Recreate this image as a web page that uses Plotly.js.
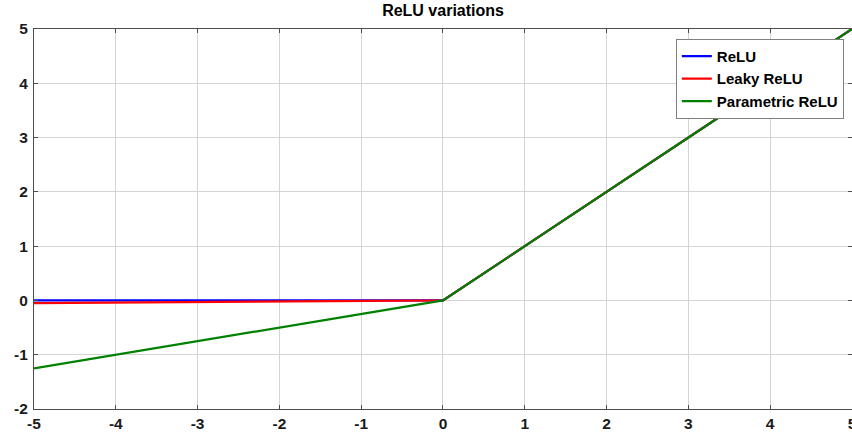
<!DOCTYPE html>
<html>
<head>
<meta charset="utf-8">
<script src="https://cdn.plot.ly/plotly-3.0.1.min.js"></script>
<style>html,body{margin:0;padding:0;background:#fff;}#chart{width:852px;height:435px;}</style>
</head>
<body>
<div id="chart"></div>
<script>
const xValues = [-5, -4, -3, -2, -1, 0, 1, 2, 3, 4, 5];
const reluValues = [0, 0, 0, 0, 0, 0, 1, 2, 3, 4, 5];
const leakyValues = [-0.05, -0.04, -0.03, -0.02, -0.01, 0, 1, 2, 3, 4, 5];
const preluValues = [-1.25, -1, -0.75, -0.5, -0.25, 0, 1, 2, 3, 4, 5];
const seriesNames = ['ReLU', 'Leaky ReLU', 'Parametric ReLU'];
const xTicks = [-5, -4, -3, -2, -1, 0, 1, 2, 3, 4, 5];
const yTicks = [-2, -1, 0, 1, 2, 3, 4, 5];

const font = 'Liberation Sans, Arial, Helvetica, sans-serif';
const traces = [
  {x: xValues, y: reluValues, name: seriesNames[0], mode: 'lines', line: {color: '#0000ff', width: 2.2}},
  {x: xValues, y: leakyValues, name: seriesNames[1], mode: 'lines', line: {color: '#ff0000', width: 2.2}},
  {x: xValues, y: preluValues, name: seriesNames[2], mode: 'lines', line: {color: '#008000', width: 2.2}}
];
const axisCommon = {
  showgrid: true, gridcolor: '#d4d4d4', gridwidth: 1,
  showline: true, linecolor: '#4d4d4d', linewidth: 1, mirror: 'ticks',
  ticks: 'inside', ticklen: 4, tickcolor: '#4d4d4d',
  zeroline: false, ticklabeloverflow: 'allow',
  tickfont: {family: font, size: 15.5, color: '#1a1a1a', weight: 'bold'}
};
const layout = {
  width: 852, height: 435,
  margin: {l: 33.5, r: 0, t: 29, b: 25.5},
  paper_bgcolor: '#ffffff', plot_bgcolor: '#ffffff',
  title: {text: '<b>ReLU variations</b>', font: {family: font, size: 16, color: '#000'}, x: 0.52, xanchor: 'center', y: 0.99, yanchor: 'top'},
  xaxis: Object.assign({}, axisCommon, {range: [-5, 5.0005], tickvals: xTicks, ticktext: xTicks.map(String)}),
  yaxis: Object.assign({}, axisCommon, {range: [-2, 5], tickvals: yTicks, ticktext: yTicks.map(String), ticklabelstandoff: 2}),
  showlegend: true,
  legend: {x: 0.99, xanchor: 'right', y: 0.974, yanchor: 'top', bgcolor: '#ffffff', bordercolor: '#808080', borderwidth: 1,
    font: {family: font, size: 15, color: '#000', weight: 'bold'}, tracegroupgap: 0, itemwidth: 30}
};
Plotly.newPlot('chart', traces, layout, {displayModeBar: false, staticPlot: true});
</script>
</body>
</html>
